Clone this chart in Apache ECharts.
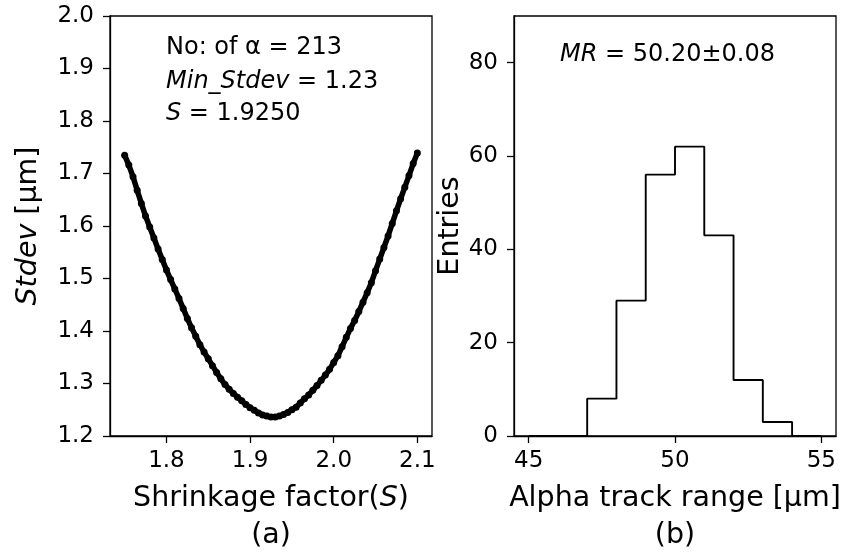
<!DOCTYPE html>
<html>
<head>
<meta charset="utf-8">
<script src="https://cdn.jsdelivr.net/npm/echarts@6/dist/echarts.min.js"></script>
<style>
  html, body { margin: 0; padding: 0; background: #fff; }
  #chart { width: 844px; height: 559px; }
</style>
</head>
<body>
<div id="chart"></div>
<script>
// ---- Panel (a): Stdev vs shrinkage factor ----
const shrinkFactors = [1.750, 1.755, 1.760, 1.765, 1.770, 1.775, 1.780, 1.785, 1.790, 1.795,
  1.800, 1.805, 1.810, 1.815, 1.820, 1.825, 1.830, 1.835, 1.840, 1.845,
  1.850, 1.855, 1.860, 1.865, 1.870, 1.875, 1.880, 1.885, 1.890, 1.895,
  1.900, 1.905, 1.910, 1.915, 1.920, 1.925, 1.930, 1.935, 1.940, 1.945,
  1.950, 1.955, 1.960, 1.965, 1.970, 1.975, 1.980, 1.985, 1.990, 1.995,
  2.000, 2.005, 2.010, 2.015, 2.020, 2.025, 2.030, 2.035, 2.040, 2.045,
  2.050, 2.055, 2.060, 2.065, 2.070, 2.075, 2.080, 2.085, 2.090, 2.095, 2.100];
const stdevValues = [1.735, 1.716, 1.694, 1.668, 1.643, 1.619, 1.598, 1.577, 1.556, 1.536,
  1.516, 1.498, 1.480, 1.462, 1.443, 1.424, 1.406, 1.390, 1.374, 1.360,
  1.347, 1.334, 1.321, 1.309, 1.298, 1.289, 1.281, 1.274, 1.267, 1.260,
  1.254, 1.249, 1.244, 1.240, 1.238, 1.236, 1.236, 1.238, 1.241, 1.245,
  1.250, 1.255, 1.263, 1.271, 1.278, 1.287, 1.296, 1.306, 1.316, 1.327,
  1.340, 1.353, 1.370, 1.388, 1.405, 1.420, 1.437, 1.455, 1.473, 1.492,
  1.515, 1.537, 1.559, 1.581, 1.605, 1.629, 1.652, 1.674, 1.696, 1.719, 1.739];
const ticksAX = [1.8, 1.9, 2.0, 2.1];
const ticksAY = [1.2, 1.3, 1.4, 1.5, 1.6, 1.7, 1.8, 1.9, 2.0];

// ---- Panel (b): histogram of alpha track range ----
const binEdges = [45, 46, 47, 48, 49, 50, 51, 52, 53, 54, 55];
const binCounts = [0, 0, 8, 29, 56, 62, 43, 12, 3, 0];
const ticksBX = [45, 50, 55];
const ticksBY = [0, 20, 40, 60, 80];

const FONT = '"DejaVu Sans", "Liberation Sans", sans-serif';
const TICK_FS = 23;
const LABEL_FS = 28.5;
const ANN_FS = 24;

const curveData = shrinkFactors.map((s, i) => [s, stdevValues[i]]);
const histData = binCounts.map((c, i) => [binEdges[i], c]);
histData.push([binEdges[binEdges.length - 1], 0]);

function valueAxis(opts) {
  return Object.assign({
    type: 'value',
    splitLine: { show: false },
    axisLine: { show: true, onZero: false, lineStyle: { color: '#000', width: 1.3 } },
    axisTick: { show: true, length: 7, lineStyle: { color: '#000', width: 1.3 } },
    axisLabel: { color: '#000', fontSize: TICK_FS, fontFamily: FONT },
    nameTextStyle: { color: '#000', fontSize: LABEL_FS, fontFamily: FONT }
  }, opts);
}

const chart = echarts.init(document.getElementById('chart'), null, { renderer: 'canvas' });
const richItalic = { i: { fontStyle: 'italic', fontSize: LABEL_FS, fontFamily: FONT, color: '#000', lineHeight: 37 } };
const option = {
  animation: false,
  backgroundColor: '#fff',
  grid: [
    { left: 110, top: 16, width: 322, height: 425, show: true, borderColor: '#000', borderWidth: 1.3, backgroundColor: 'transparent' },
    { left: 514, top: 16, width: 322, height: 425, show: true, borderColor: '#000', borderWidth: 1.3, backgroundColor: 'transparent' }
  ],
  xAxis: [
    valueAxis({
      gridIndex: 0, min: 1.7325, max: 2.1175,
      axisTick: { show: true, length: 7, lineStyle: { color: '#000', width: 1.3 }, customValues: ticksAX },
      axisLabel: { color: '#000', fontSize: TICK_FS, fontFamily: FONT, margin: 14, customValues: ticksAX,
        formatter: v => v.toFixed(1) },
      name: 'Shrinkage factor({i|S})\n(a)', nameLocation: 'middle', nameGap: 44,
      nameTextStyle: { color: '#000', fontSize: LABEL_FS, fontFamily: FONT, lineHeight: 37, rich: richItalic }
    }),
    valueAxis({
      gridIndex: 1, min: 44.5, max: 55.5,
      axisTick: { show: true, length: 7, lineStyle: { color: '#000', width: 1.3 }, customValues: ticksBX },
      axisLabel: { color: '#000', fontSize: TICK_FS, fontFamily: FONT, margin: 14, customValues: ticksBX },
      name: 'Alpha track range [μm]\n(b)', nameLocation: 'middle', nameGap: 44,
      nameTextStyle: { color: '#000', fontSize: LABEL_FS, fontFamily: FONT, lineHeight: 37 }
    })
  ],
  yAxis: [
    valueAxis({
      gridIndex: 0, min: 1.2, max: 2.0,
      axisTick: { show: true, length: 7, lineStyle: { color: '#000', width: 1.3 }, customValues: ticksAY },
      axisLabel: { color: '#000', fontSize: TICK_FS, fontFamily: FONT, margin: 16, customValues: ticksAY,
        formatter: v => v.toFixed(1) },
      name: '{i|Stdev} [μm]', nameLocation: 'middle', nameGap: 67,
      nameTextStyle: { color: '#000', fontSize: LABEL_FS, fontFamily: FONT,
        rich: { i: { fontStyle: 'italic', fontSize: LABEL_FS, fontFamily: FONT, color: '#000' } } }
    }),
    valueAxis({
      gridIndex: 1, min: 0, max: 90,
      axisTick: { show: true, length: 7, lineStyle: { color: '#000', width: 1.3 }, customValues: ticksBY },
      axisLabel: { color: '#000', fontSize: TICK_FS, fontFamily: FONT, margin: 16, customValues: ticksBY },
      name: 'Entries', nameLocation: 'middle', nameGap: 47
    })
  ],
  series: [
    {
      type: 'line', xAxisIndex: 0, yAxisIndex: 0, data: curveData,
      symbol: 'circle', symbolSize: 7, showSymbol: true,
      itemStyle: { color: '#000' },
      lineStyle: { color: '#000', width: 5.5 },
      emphasis: { disabled: true }, silent: true
    },
    {
      type: 'line', xAxisIndex: 1, yAxisIndex: 1, data: histData,
      step: 'end', showSymbol: false, symbol: 'none',
      lineStyle: { color: '#000', width: 1.9 },
      emphasis: { disabled: true }, silent: true
    }
  ],
  graphic: [
    { type: 'text', x: 166, y: 48, style: { text: 'No: of α = 213', fontSize: ANN_FS, fontFamily: FONT, fill: '#000', verticalAlign: 'middle' } },
    { type: 'text', x: 166, y: 82, style: { text: '{i|Min_Stdev} = 1.23', fontSize: ANN_FS, fontFamily: FONT, fill: '#000', verticalAlign: 'middle',
        rich: { i: { fontStyle: 'italic', fontSize: ANN_FS, fontFamily: FONT, fill: '#000' } } } },
    { type: 'text', x: 166, y: 114, style: { text: '{i|S} = 1.9250', fontSize: ANN_FS, fontFamily: FONT, fill: '#000', verticalAlign: 'middle',
        rich: { i: { fontStyle: 'italic', fontSize: ANN_FS, fontFamily: FONT, fill: '#000' } } } },
    { type: 'text', x: 560, y: 55, style: { text: '{i|MR} = 50.20±0.08', fontSize: ANN_FS, fontFamily: FONT, fill: '#000', verticalAlign: 'middle',
        rich: { i: { fontStyle: 'italic', fontSize: ANN_FS, fontFamily: FONT, fill: '#000' } } } }
  ]
};
chart.setOption(option);
</script>
</body>
</html>
